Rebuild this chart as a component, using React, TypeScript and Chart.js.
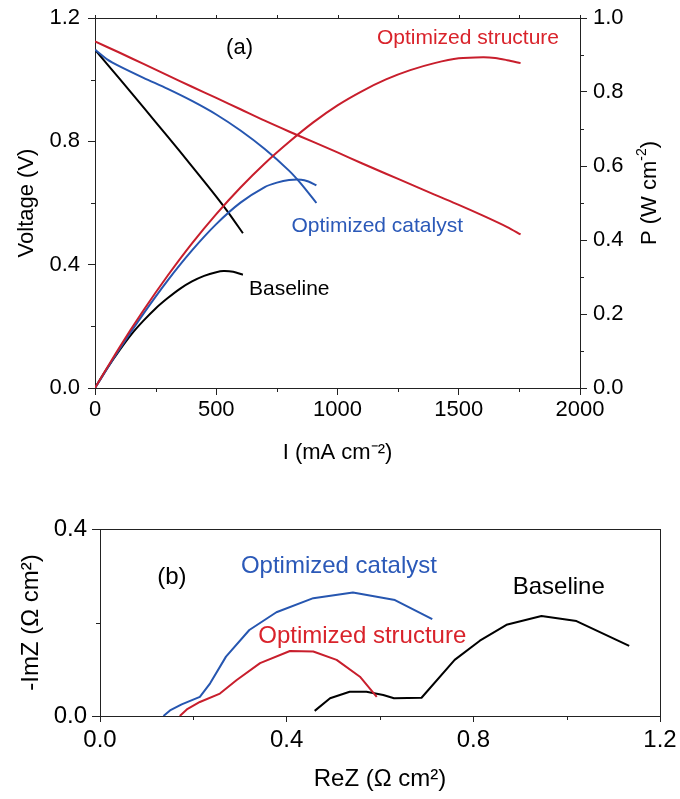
import React, { useEffect, useRef } from 'react';
import { Chart, registerables } from 'chart.js';

Chart.register(...registerables);

// ---------- Panel (a): polarization (V) and power density (P) vs current density ----------
const structureI = [0, 100, 200, 300, 400, 500, 600, 700, 800, 900, 1000, 1100, 1200, 1300, 1400, 1500, 1600, 1700, 1755];
const structureV = [1.124, 1.088, 1.051, 1.014, 0.977, 0.941, 0.904, 0.867, 0.832, 0.798, 0.764, 0.729, 0.695, 0.661, 0.627, 0.594, 0.559, 0.522, 0.498];
const structurePI = [0, 100, 200, 300, 400, 500, 600, 700, 800, 900, 1000, 1100, 1200, 1300, 1400, 1500, 1600, 1650, 1700, 1755];
const structureP = [0, 0.109, 0.21, 0.304, 0.391, 0.47, 0.542, 0.607, 0.665, 0.718, 0.764, 0.802, 0.834, 0.859, 0.878, 0.891, 0.894, 0.892, 0.886, 0.878];

const catalystI = [0, 50, 100, 200, 300, 400, 500, 600, 700, 800, 850, 913];
const catalystV = [1.097, 1.066, 1.044, 1.006, 0.97, 0.931, 0.887, 0.835, 0.775, 0.705, 0.662, 0.6];
const catalystPI = [0, 100, 200, 300, 400, 500, 600, 700, 750, 800, 850, 880, 913];
const catalystP = [0, 0.104, 0.201, 0.291, 0.372, 0.443, 0.501, 0.543, 0.555, 0.562, 0.563, 0.558, 0.548];

const baselineI = [0, 100, 200, 300, 400, 500, 550, 610];
const baselineV = [1.097, 1.004, 0.91, 0.815, 0.719, 0.621, 0.569, 0.502];
const baselinePI = [0, 50, 100, 150, 200, 250, 300, 350, 400, 450, 500, 530, 570, 610];
const baselineP = [0, 0.053, 0.101, 0.145, 0.182, 0.215, 0.243, 0.268, 0.288, 0.303, 0.313, 0.316, 0.314, 0.306];

const iTicks = [0, 500, 1000, 1500, 2000];
const iMinor = [250, 750, 1250, 1750];
const vTicks = [0, 0.4, 0.8, 1.2];
const vMinor = [0.2, 0.6, 1.0];
const pTicks = [0, 0.2, 0.4, 0.6, 0.8, 1.0];
const pMinor = [0.1, 0.3, 0.5, 0.7, 0.9];

// ---------- Panel (b): Nyquist plots ----------
const catalystReZ = [0.136, 0.15, 0.175, 0.214, 0.236, 0.27, 0.32, 0.378, 0.457, 0.542, 0.632, 0.712];
const catalystImZ = [0.0, 0.012, 0.025, 0.041, 0.07, 0.127, 0.184, 0.222, 0.252, 0.264, 0.248, 0.207];
const structureReZ = [0.171, 0.186, 0.214, 0.257, 0.293, 0.343, 0.407, 0.457, 0.507, 0.557, 0.593];
const structureImZ = [0.0, 0.014, 0.03, 0.048, 0.077, 0.113, 0.139, 0.138, 0.12, 0.084, 0.041];
const baselineReZ = [0.46, 0.493, 0.535, 0.571, 0.607, 0.63, 0.689, 0.76, 0.814, 0.871, 0.946, 1.021, 1.134];
const baselineImZ = [0.011, 0.038, 0.052, 0.052, 0.045, 0.038, 0.039, 0.12, 0.161, 0.195, 0.214, 0.203, 0.15];

const reTicks = [0, 0.4, 0.8, 1.2];
const reMinor = [0.2, 0.6, 1.0];
const imTicks = [0, 0.4];
const imMinor = [0.2];

// ---------- styles ----------
const FONT = '"Liberation Sans", Arial, Helvetica, sans-serif';
const RED = '#c81e2c';
const RED_TEXT = '#d9232b';
const BLUE = '#2656b0';
const BLUE_TEXT = '#2b59b8';
const BLACK = '#000000';
const AXIS = '#222222';

const zip = (xs: number[], ys: number[]) => xs.map((x, i) => ({ x, y: ys[i] }));

type TextItem = { text: string; x: number; y: number; color: string; size: number };
type MinorSpec = { scaleId: string; values: number[]; len: number; side: 'bottom' | 'left' | 'right' | 'top' };

function decorPlugin(cfg: {
  fullBox: boolean;
  topTicks?: number[];
  minors: MinorSpec[];
  texts: TextItem[];
  xId: string;
  yId: string;
  rightTitle?: { main: string; sup: string; x: number; y: number; size: number };
}) {
  return {
    id: 'decor',
    afterDraw(chart: any) {
      const ctx: CanvasRenderingContext2D = chart.ctx;
      const a = chart.chartArea;
      const al = (p: number) => Math.round(p) + 0.5;
      ctx.save();
      ctx.strokeStyle = AXIS;
      ctx.lineWidth = 1;
      ctx.beginPath();
      ctx.moveTo(a.left, al(a.top));
      ctx.lineTo(a.right, al(a.top));
      if (cfg.fullBox) {
        ctx.moveTo(al(a.right), a.top);
        ctx.lineTo(al(a.right), a.bottom);
      }
      ctx.stroke();
      if (cfg.topTicks) {
        const xs = chart.scales[cfg.xId];
        ctx.beginPath();
        for (const v of cfg.topTicks) {
          const p = al(xs.getPixelForValue(v));
          ctx.moveTo(p, a.top);
          ctx.lineTo(p, a.top - 3);
        }
        ctx.stroke();
      }
      for (const m of cfg.minors) {
        const s = chart.scales[m.scaleId];
        ctx.beginPath();
        for (const v of m.values) {
          const p = al(s.getPixelForValue(v));
          if (m.side === 'bottom') {
            ctx.moveTo(p, a.bottom);
            ctx.lineTo(p, a.bottom + m.len);
          } else if (m.side === 'left') {
            ctx.moveTo(a.left, p);
            ctx.lineTo(a.left - m.len, p);
          } else if (m.side === 'right') {
            ctx.moveTo(a.right, p);
            ctx.lineTo(a.right + m.len, p);
          }
        }
        ctx.stroke();
      }
      const xs = chart.scales[cfg.xId];
      const ys = chart.scales[cfg.yId];
      ctx.textAlign = 'center';
      ctx.textBaseline = 'middle';
      for (const t of cfg.texts) {
        ctx.font = `${t.size}px ${FONT}`;
        ctx.fillStyle = t.color;
        ctx.fillText(t.text, xs.getPixelForValue(t.x), ys.getPixelForValue(t.y));
      }
      if (cfg.rightTitle) {
        const r = cfg.rightTitle;
        const supSize = Math.round(r.size * 0.64);
        ctx.translate(r.x, r.y);
        ctx.rotate(-Math.PI / 2);
        ctx.fillStyle = '#000';
        ctx.textAlign = 'left';
        ctx.font = `${r.size}px ${FONT}`;
        const w1 = ctx.measureText(r.main).width;
        const w3 = ctx.measureText(')').width;
        ctx.font = `${supSize}px ${FONT}`;
        const w2 = ctx.measureText(r.sup).width;
        let x0 = -(w1 + w2 + w3) / 2;
        ctx.font = `${r.size}px ${FONT}`;
        ctx.fillText(r.main, x0, 0);
        x0 += w1;
        ctx.font = `${supSize}px ${FONT}`;
        ctx.fillText(r.sup, x0, -r.size * 0.36);
        x0 += w2;
        ctx.font = `${r.size}px ${FONT}`;
        ctx.fillText(')', x0, 0);
      }
      ctx.restore();
    },
  };
}

const fixBox = (w?: number, h?: number) => (s: any) => {
  if (w !== undefined) s.width = w;
  if (h !== undefined) s.height = h;
  s.paddingTop = 0;
  s.paddingBottom = 0;
  s.paddingLeft = 0;
  s.paddingRight = 0;
};

const setTicks = (vals: number[]) => (s: any) => {
  s.ticks = vals.map((v) => ({ value: v }));
};

const gridOpts = (len: number) => ({
  display: true,
  drawOnChartArea: false,
  drawTicks: true,
  tickLength: len,
  color: AXIS,
  tickColor: AXIS,
  lineWidth: 1,
});

function lineDs(label: string, data: { x: number; y: number }[], color: string, axis?: string, tension = 0.3) {
  const ds: any = {
    label,
    data,
    borderColor: color,
    backgroundColor: color,
    borderWidth: 2,
    pointRadius: 0,
    fill: false,
    tension,
    borderJoinStyle: 'round',
  };
  if (axis) ds.yAxisID = axis;
  return ds;
}

export default function App() {
  const refA = useRef<HTMLCanvasElement>(null);
  const refB = useRef<HTMLCanvasElement>(null);

  useEffect(() => {
    const chartA = new Chart(refA.current as HTMLCanvasElement, {
      type: 'line',
      data: {
        datasets: [
          lineDs('Optimized structure V', zip(structureI, structureV), RED, 'y'),
          lineDs('Optimized structure P', zip(structurePI, structureP), RED, 'y2'),
          lineDs('Optimized catalyst V', zip(catalystI, catalystV), BLUE, 'y'),
          lineDs('Optimized catalyst P', zip(catalystPI, catalystP), BLUE, 'y2'),
          lineDs('Baseline V', zip(baselineI, baselineV), BLACK, 'y'),
          lineDs('Baseline P', zip(baselinePI, baselineP), BLACK, 'y2'),
        ],
      },
      options: {
        responsive: false,
        animation: false,
        devicePixelRatio: 1,
        events: [],
        layout: { padding: { top: 18, left: 0, right: 0, bottom: 0 } },
        plugins: { legend: { display: false }, tooltip: { enabled: false } },
        scales: {
          x: {
            type: 'linear',
            position: 'bottom',
            min: 0,
            max: 2000,
            grid: gridOpts(7),
            border: { display: true, color: AXIS, width: 1 },
            afterBuildTicks: setTicks(iTicks),
            afterFit: fixBox(undefined, 92),
            ticks: {
              color: '#000',
              font: { family: FONT, size: 22 },
              padding: 2,
              maxRotation: 0,
              autoSkip: false,
              callback: (v: any) => String(v),
            },
            title: {
              display: true,
              text: 'I (mA cm⁻²)',
              color: '#000',
              font: { family: FONT, size: 22 },
              padding: { top: 0, bottom: 14 },
            },
          },
          y: {
            type: 'linear',
            position: 'left',
            min: 0,
            max: 1.2,
            grid: gridOpts(7),
            border: { display: true, color: AXIS, width: 1 },
            afterBuildTicks: setTicks(vTicks),
            afterFit: fixBox(95, undefined),
            ticks: {
              color: '#000',
              font: { family: FONT, size: 22 },
              padding: 8,
              autoSkip: false,
              callback: (v: any) => Number(v).toFixed(1),
            },
            title: {
              display: true,
              text: 'Voltage (V)',
              color: '#000',
              font: { family: FONT, size: 22 },
              padding: { top: 14, bottom: 0 },
            },
          },
          y2: {
            type: 'linear',
            position: 'right',
            min: 0,
            max: 1.0,
            grid: gridOpts(7),
            border: { display: true, color: AXIS, width: 1 },
            afterBuildTicks: setTicks(pTicks),
            afterFit: fixBox(100, undefined),
            ticks: {
              color: '#000',
              font: { family: FONT, size: 22 },
              padding: 6,
              autoSkip: false,
              callback: (v: any) => Number(v).toFixed(1),
            },
            title: { display: false, text: 'P (W cm⁻²)' },
          },
        },
      } as any,
      plugins: [
        decorPlugin({
          fullBox: false,
          topTicks: [...iTicks, ...iMinor],
          minors: [
            { scaleId: 'x', values: iMinor, len: 4, side: 'bottom' },
            { scaleId: 'y', values: vMinor, len: 4, side: 'left' },
            { scaleId: 'y2', values: pMinor, len: 4, side: 'right' },
          ],
          xId: 'x',
          yId: 'y',
          texts: [
            { text: '(a)', x: 596, y: 1.104, color: '#000', size: 22 },
            { text: 'Optimized structure', x: 1538, y: 1.133, color: RED_TEXT, size: 21 },
            { text: 'Optimized catalyst', x: 1164, y: 0.525, color: BLUE_TEXT, size: 21 },
            { text: 'Baseline', x: 801, y: 0.32, color: '#000', size: 21 },
          ],
          rightTitle: { main: 'P (W cm', sup: '-2', x: 650, y: 193, size: 22 },
        }) as any,
      ],
    });

    const chartB = new Chart(refB.current as HTMLCanvasElement, {
      type: 'line',
      data: {
        datasets: [
          lineDs('Optimized structure', zip(structureReZ, structureImZ), RED, undefined, 0),
          lineDs('Optimized catalyst', zip(catalystReZ, catalystImZ), BLUE, undefined, 0),
          lineDs('Baseline', zip(baselineReZ, baselineImZ), BLACK, undefined, 0),
        ],
      },
      options: {
        responsive: false,
        animation: false,
        devicePixelRatio: 1,
        events: [],
        layout: { padding: { top: 49, left: 0, right: 20, bottom: 0 } },
        plugins: { legend: { display: false }, tooltip: { enabled: false } },
        scales: {
          x: {
            type: 'linear',
            position: 'bottom',
            min: 0,
            max: 1.2,
            grid: gridOpts(6),
            border: { display: true, color: AXIS, width: 1 },
            afterBuildTicks: setTicks(reTicks),
            afterFit: fixBox(undefined, 83),
            ticks: {
              color: '#000',
              font: { family: FONT, size: 24 },
              padding: 4,
              maxRotation: 0,
              autoSkip: false,
              callback: (v: any) => Number(v).toFixed(1),
            },
            title: {
              display: true,
              text: 'ReZ (Ω cm²)',
              color: '#000',
              font: { family: FONT, size: 24 },
              padding: { top: 0, bottom: 5 },
            },
          },
          y: {
            type: 'linear',
            position: 'left',
            min: 0,
            max: 0.4,
            grid: gridOpts(8),
            border: { display: true, color: AXIS, width: 1 },
            afterBuildTicks: setTicks(imTicks),
            afterFit: fixBox(100, undefined),
            ticks: {
              color: '#000',
              font: { family: FONT, size: 24 },
              padding: 5,
              autoSkip: false,
              callback: (v: any) => Number(v).toFixed(1),
            },
            title: {
              display: true,
              text: '-ImZ (Ω cm²)',
              color: '#000',
              font: { family: FONT, size: 24 },
              padding: { top: 17, bottom: 0 },
            },
          },
        },
      } as any,
      plugins: [
        decorPlugin({
          fullBox: true,
          minors: [
            { scaleId: 'x', values: reMinor, len: 4, side: 'bottom' },
            { scaleId: 'y', values: imMinor, len: 4, side: 'left' },
          ],
          xId: 'x',
          yId: 'y',
          texts: [
            { text: '(b)', x: 0.154, y: 0.296, color: '#000', size: 24 },
            { text: 'Optimized catalyst', x: 0.512, y: 0.32, color: BLUE_TEXT, size: 24 },
            { text: 'Optimized structure', x: 0.562, y: 0.17, color: RED_TEXT, size: 24 },
            { text: 'Baseline', x: 0.983, y: 0.275, color: '#000', size: 24 },
          ],
        }) as any,
      ],
    });

    return () => {
      chartA.destroy();
      chartB.destroy();
    };
  }, []);

  return (
    <div style={{ position: 'absolute', left: 0, top: 0, width: 680, height: 799, background: '#fff' }}>
      <canvas
        ref={refA}
        width={680}
        height={480}
        style={{ position: 'absolute', left: 0, top: 0, width: 680, height: 480, display: 'block' }}
      />
      <canvas
        ref={refB}
        width={680}
        height={319}
        style={{ position: 'absolute', left: 0, top: 480, width: 680, height: 319, display: 'block' }}
      />
    </div>
  );
}
